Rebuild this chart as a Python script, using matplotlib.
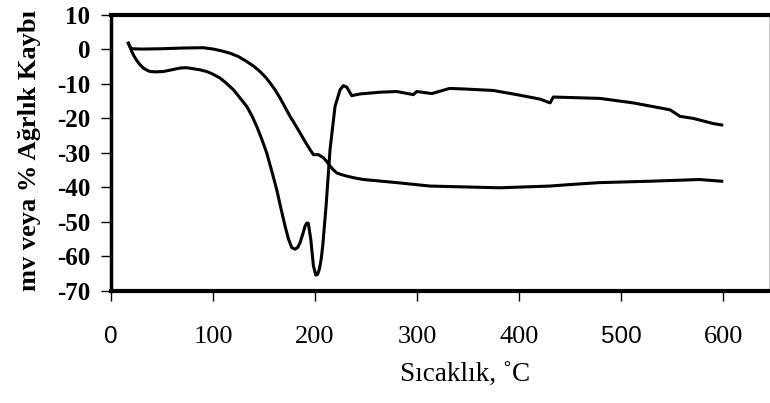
import matplotlib
matplotlib.use('Agg')
import matplotlib.pyplot as plt

# DTA curve (mv)
sicaklik_mv = [17, 18.5, 20.3, 22.5, 25.2, 28, 31.7, 35, 38.2, 44, 51.3, 58, 67.6, 74,
               80.7, 87, 93.8, 100, 106.9, 113, 120, 126, 133, 138,
               142.8, 147.5, 152.6, 157.5, 162.4, 166.5, 170.6, 174, 177.1, 180.4,
               183, 185.3, 188, 190.2, 192, 193.4, 195.8,
               198.4, 200.7, 202.5, 204.2, 206, 207.5, 210.8, 214.7, 219.6, 224.5,
               227.8, 231, 235.9, 244.1, 263.7, 280, 296.4, 299.7, 314.4, 332,
               348.7, 374.8, 397.7, 420.6, 430.4, 433.6, 479.4, 512, 548, 557.8,
               570.9, 590.5, 598.7]
mv = [1.8, 0.8, -0.6, -1.9, -3.2, -4.3, -5.4, -6.0, -6.4, -6.5, -6.4, -6.0, -5.4, -5.3,
      -5.6, -5.9, -6.4, -7.2, -8.3, -9.8, -11.7, -13.9, -16.5, -19.2,
      -22.3, -25.8, -30, -35.2, -40.6, -46, -51.2, -55, -57.4, -57.9,
      -57.4, -56, -53.5, -51.2, -50.3, -50.4, -55,
      -62.7, -65.4, -65.2, -63.7, -60.8, -57, -45.4, -29, -16.5, -11.7,
      -10.5, -10.9, -13.4, -12.9, -12.4, -12.2, -13.1, -12.2, -12.8, -11.3,
      -11.5, -11.9, -13.1, -14.4, -15.5, -13.8, -14.2, -15.5, -17.5, -19.4,
      -20, -21.5, -21.9]

# TG curve (% weight loss)
sicaklik_tg = [17, 18.5, 20, 30, 50, 70, 90, 100.3, 108, 116.7, 125, 133, 140, 146,
               151, 155.9, 161, 165.7, 170.5, 175.5, 180.5, 185.3, 190, 195,
               198.4, 203.3, 208.2, 211.5, 214.7, 218, 221.3, 226, 231, 238,
               247.4, 262, 280, 312.7, 381, 430, 453, 479, 528, 577, 598.7]
agirlik = [1.8, 0.8, 0.2, 0.1, 0.2, 0.4, 0.5, 0.1, -0.4, -1.1, -2.1, -3.5, -4.9, -6.4,
           -7.9, -9.7, -11.8, -14.1, -16.7, -19.4, -21.8, -24.2, -26.6, -29,
           -30.5, -30.5, -31.4, -32.5, -33.8, -34.9, -35.8, -36.3, -36.7, -37.2,
           -37.7, -38.1, -38.6, -39.6, -40.1, -39.6, -39.1, -38.6, -38.2, -37.7, -38.2]

xticks = [0, 100, 200, 300, 400, 500, 600]
yticks = [10, 0, -10, -20, -30, -40, -50, -60, -70]

serif = 'Liberation Serif'

fig = plt.figure(figsize=(7.7, 4.03), dpi=100)
ax = fig.add_axes([0.1442, 0.278, 0.8545, 0.685])

ax.plot(sicaklik_mv, mv, color='black', lw=2.2)
ax.plot(sicaklik_tg, agirlik, color='black', lw=2.2)

ax.set_xlim(0, 645)
ax.set_ylim(-70, 10)

ax.spines['top'].set_linewidth(3)
ax.spines['bottom'].set_linewidth(3)
ax.spines['left'].set_linewidth(2.5)
ax.spines['right'].set_linewidth(0.6)
ax.spines['right'].set_color('#bbbbbb')

ax.set_xticks(xticks)
ax.set_yticks(yticks)
ax.set_xticklabels([str(t) for t in xticks])
ax.set_yticklabels([str(t) for t in yticks])
ax.tick_params(axis='x', direction='out', length=7, width=1, pad=18)
ax.tick_params(axis='y', direction='out', length=7, width=1, pad=8)

for lab in ax.get_xticklabels():
    if lab.get_text() in ('0', '500'):
        lab.set_fontfamily('Liberation Sans')
        lab.set_fontsize(17.5)
    else:
        lab.set_fontfamily(serif)
        lab.set_fontsize(19)
for lab in ax.get_yticklabels():
    lab.set_fontfamily(serif)
    lab.set_fontsize(18)
    lab.set_fontweight('bold')

ax.set_ylabel('mv veya % Ağrlık Kaybı', fontfamily=serif, fontsize=19, fontweight='bold')
ax.yaxis.set_label_coords(-0.106, 0.51)
ax.set_xlabel('Sıcaklık, ˚C', fontfamily=serif, fontsize=19.5)
ax.xaxis.set_label_coords(0.538, -0.26)
ax.xaxis.label.set_va('top')

fig.savefig('out.png', dpi=100)
